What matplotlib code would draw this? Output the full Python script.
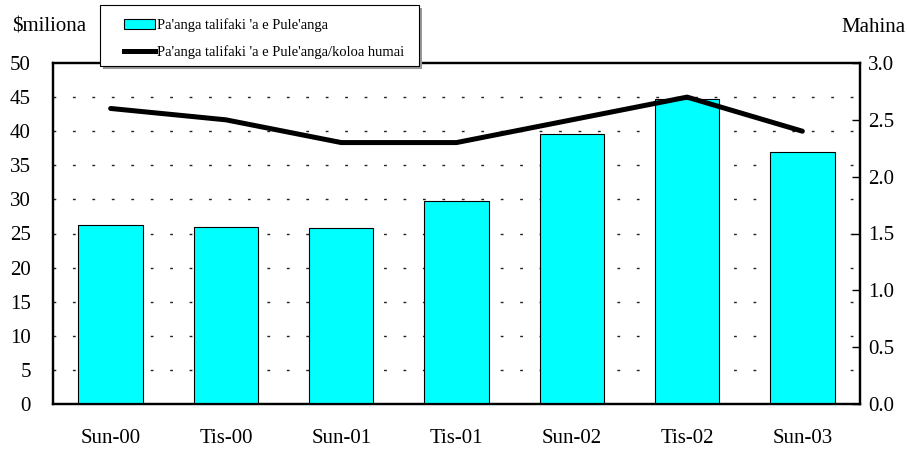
import matplotlib
matplotlib.use('Agg')
import matplotlib.pyplot as plt
from matplotlib.patches import Patch, Rectangle
from matplotlib.lines import Line2D
import numpy as np

plt.rcParams['font.family'] = ['Liberation Serif', 'DejaVu Serif']

# Data
periods = ['Sun-00', 'Tis-00', 'Sun-01', 'Tis-01', 'Sun-02', 'Tis-02', 'Sun-03']
reserves = [26.3, 26.0, 25.8, 29.8, 39.6, 44.7, 37.0]        # $miliona
import_months = [2.6, 2.5, 2.3, 2.3, 2.5, 2.7, 2.4]           # Mahina

bar_label = "Pa'anga talifaki 'a e Pule'anga"
line_label = "Pa'anga talifaki 'a e Pule'anga/koloa humai"

W, H = 907, 451
fig = plt.figure(figsize=(W / 100, H / 100), dpi=100)
ax = fig.add_axes([53/W, 1 - 404/H, (860 - 53)/W, (404 - 63)/H])
ax2 = ax.twinx()

x = np.arange(len(periods))

# Bars on left axis
ax.bar(x, reserves, width=0.56, color='#00FFFF', edgecolor='black', linewidth=0.8, zorder=3)
ax.set_ylim(0, 50)
ax.set_yticks(np.arange(0, 51, 5))
ax.set_xlim(-0.5, len(periods) - 0.5)
ax.set_xticks(x)
ax.set_xticklabels(periods)
ax.tick_params(axis='x', length=0, pad=18, labelsize=15)
ax.tick_params(axis='y', direction='in', length=0, labelsize=15, pad=16)

# dotted gridlines
for v in np.arange(5, 50, 5):
    ax.axhline(v, color='#222222', linewidth=1, linestyle=(0, (2, 12)), zorder=1)

# Line on right axis
ax2.plot(x, import_months, color='black', linewidth=3.6, solid_capstyle='round', zorder=4)
ax2.set_ylim(0, 3.0)
ax2.set_yticks(np.arange(0, 3.01, 0.5))
ax2.set_yticklabels([f'{v:.1f}' for v in np.arange(0, 3.01, 0.5)])
ax2.tick_params(axis='y', direction='in', length=6, width=1, labelsize=15, pad=6)

for a in (ax, ax2):
    for s in a.spines.values():
        s.set_linewidth(1.6)
        s.set_color('black')

fig.text(12/W, 1 - 27/H, '$miliona', fontsize=15, va='center', ha='left')
fig.text(905/W, 1 - 27/H, 'Mahina', fontsize=15, va='center', ha='right')

# legend box drawn by hand (covers the top spine), with a grey shadow
bx0, by0, bx1, by1 = 100, 5, 419, 66
shadow = Rectangle(((bx0 + 3)/W, 1 - (by1 + 3)/H), (bx1 - bx0)/W, (by1 - by0)/H,
                   transform=fig.transFigure, facecolor='0.6', edgecolor='none', zorder=7)
frame = Rectangle((bx0/W, 1 - by1/H), (bx1 - bx0)/W, (by1 - by0)/H,
                  transform=fig.transFigure, facecolor='white', edgecolor='black',
                  linewidth=0.8, zorder=8)
fig.add_artist(shadow)
fig.add_artist(frame)

handles = [Patch(facecolor='#00FFFF', edgecolor='black', linewidth=0.8),
           Line2D([0], [0], color='black', linewidth=3.6)]
leg = fig.legend(handles, [bar_label, line_label], loc='upper left',
                 bbox_to_anchor=(124/W, 1 - 18/H), fontsize=10.5, frameon=False,
                 borderpad=0, labelspacing=0.92, handlelength=2.15, handletextpad=0.12,
                 borderaxespad=0)
leg.set_zorder(10)

fig.savefig('out.png', dpi=100)
